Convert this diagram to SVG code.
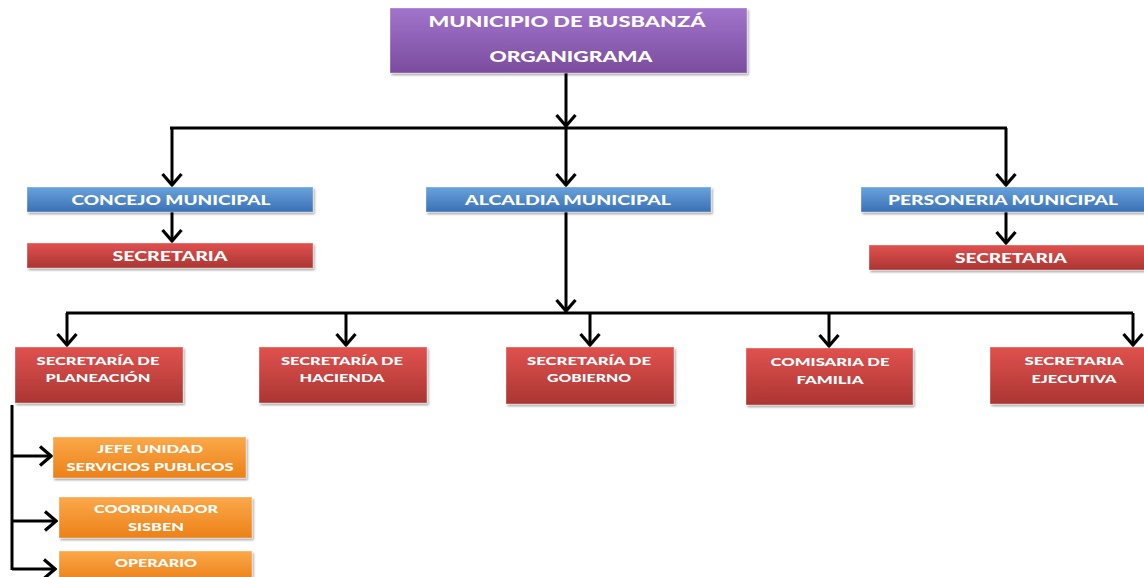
<svg xmlns="http://www.w3.org/2000/svg" width="1144" height="577" viewBox="0 0 1144 577">
<defs>
<linearGradient id="gPurple" x1="0" y1="0" x2="0" y2="1"><stop offset="0" stop-color="#a174cb"/><stop offset="1" stop-color="#7a4c9e"/></linearGradient>
<linearGradient id="gBlue" x1="0" y1="0" x2="0" y2="1"><stop offset="0" stop-color="#69a3dc"/><stop offset="1" stop-color="#3a70b5"/></linearGradient>
<linearGradient id="gRed" x1="0" y1="0" x2="0" y2="1"><stop offset="0" stop-color="#e0524f"/><stop offset="1" stop-color="#ab3532"/></linearGradient>
<linearGradient id="gOrange" x1="0" y1="0" x2="0" y2="1"><stop offset="0" stop-color="#fba84a"/><stop offset="1" stop-color="#ec8118"/></linearGradient>
<filter id="sh" x="-5%" y="-20%" width="110%" height="150%"><feDropShadow dx="1.5" dy="2" stdDeviation="1.2" flood-color="#000" flood-opacity="0.35"/></filter>
<marker id="arr" markerUnits="userSpaceOnUse" viewBox="-14 -12 16 24" refX="0" refY="0" markerWidth="16" markerHeight="24" orient="auto">
<path d="M-11,-9.5 L0,0 L-11,9.5" fill="none" stroke="#000" stroke-width="3.2"/>
</marker>
<style>
.box{filter:url(#sh);stroke:#ffffff;stroke-opacity:0.35;stroke-width:1}
.t{font-family:Lato,"Open Sans","Liberation Sans",sans-serif;font-weight:900;fill:#ffffff;text-anchor:middle}
.big{font-size:15.5px}
.mid{font-size:14px}
.sm{font-size:12px}
.xs{font-size:12px}
.c{fill:none;stroke:#000;stroke-width:3}
</style>
</defs>
<g id="connectors">
<path class="c" d="M566,73 V126" marker-end="url(#arr)"/>
<path class="c" d="M170,128 H1007"/>
<path class="c" d="M172,128 V185" marker-end="url(#arr)"/>
<path class="c" d="M566,128 V185" marker-end="url(#arr)"/>
<path class="c" d="M1006,128 V185" marker-end="url(#arr)"/>
<path class="c" d="M172,212 V241" marker-end="url(#arr)"/>
<path class="c" d="M1006,212 V243" marker-end="url(#arr)"/>
<path class="c" d="M566,212 V311" marker-end="url(#arr)"/>
<path class="c" d="M66,313 H1133"/>
<path class="c" d="M67,313 V345" marker-end="url(#arr)"/>
<path class="c" d="M346,313 V345" marker-end="url(#arr)"/>
<path class="c" d="M590,313 V345" marker-end="url(#arr)"/>
<path class="c" d="M829,313 V346" marker-end="url(#arr)"/>
<path class="c" d="M1133,313 V345" marker-end="url(#arr)"/>
<path class="c" d="M12,405 V570"/>
<path class="c" d="M12,456 H51" marker-end="url(#arr)"/>
<path class="c" d="M12,521 H56" marker-end="url(#arr)"/>
<path class="c" d="M12,569 H55" marker-end="url(#arr)"/>
</g>
<g id="n-municipio"><rect class="box" x="390" y="8" width="357" height="65" fill="url(#gPurple)"/><text class="t big" x="567" y="27" textLength="277" lengthAdjust="spacingAndGlyphs">MUNICIPIO DE BUSBANZÁ</text><text class="t big" x="571" y="62" textLength="163" lengthAdjust="spacingAndGlyphs">ORGANIGRAMA</text></g>
<g id="n-concejo"><rect class="box" x="27" y="187" width="286" height="25" fill="url(#gBlue)"/><text class="t mid" x="171" y="205" textLength="199" lengthAdjust="spacingAndGlyphs">CONCEJO MUNICIPAL</text></g>
<g id="n-alcaldia"><rect class="box" x="426" y="187" width="285" height="25" fill="url(#gBlue)"/><text class="t mid" x="568" y="205" textLength="206" lengthAdjust="spacingAndGlyphs">ALCALDIA MUNICIPAL</text></g>
<g id="n-personeria"><rect class="box" x="861" y="187" width="285" height="25" fill="url(#gBlue)"/><text class="t mid" x="1003" y="205" textLength="230" lengthAdjust="spacingAndGlyphs">PERSONERIA MUNICIPAL</text></g>
<g id="n-secretaria-1"><rect class="box" x="27" y="243" width="286" height="25" fill="url(#gRed)"/><text class="t mid" x="170" y="261" textLength="115" lengthAdjust="spacingAndGlyphs">SECRETARIA</text></g>
<g id="n-secretaria-2"><rect class="box" x="869" y="245" width="277" height="25" fill="url(#gRed)"/><text class="t mid" x="1011" y="263" textLength="112" lengthAdjust="spacingAndGlyphs">SECRETARIA</text></g>
<g id="n-planeacion"><rect class="box" x="15" y="347" width="168" height="56" fill="url(#gRed)"/><text class="t sm" x="98" y="365" textLength="123" lengthAdjust="spacingAndGlyphs">SECRETARÍA DE</text><text class="t sm" x="98" y="382" textLength="105" lengthAdjust="spacingAndGlyphs">PLANEACIÓN</text></g>
<g id="n-hacienda"><rect class="box" x="259" y="347" width="168" height="56" fill="url(#gRed)"/><text class="t sm" x="342" y="365" textLength="122" lengthAdjust="spacingAndGlyphs">SECRETARÍA DE</text><text class="t sm" x="342" y="382" textLength="85" lengthAdjust="spacingAndGlyphs">HACIENDA</text></g>
<g id="n-gobierno"><rect class="box" x="506" y="347" width="168" height="57" fill="url(#gRed)"/><text class="t sm" x="589" y="365" textLength="124" lengthAdjust="spacingAndGlyphs">SECRETARÍA DE</text><text class="t sm" x="589" y="382" textLength="84" lengthAdjust="spacingAndGlyphs">GOBIERNO</text></g>
<g id="n-comisaria"><rect class="box" x="746" y="348" width="167" height="57" fill="url(#gRed)"/><text class="t sm" x="830" y="366" textLength="119" lengthAdjust="spacingAndGlyphs">COMISARIA DE</text><text class="t sm" x="830" y="384" textLength="67" lengthAdjust="spacingAndGlyphs">FAMILIA</text></g>
<g id="n-ejecutiva"><rect class="box" x="990" y="347" width="156" height="57" fill="url(#gRed)"/><text class="t sm" x="1074" y="365" textLength="99" lengthAdjust="spacingAndGlyphs">SECRETARIA</text><text class="t sm" x="1074" y="383" textLength="85" lengthAdjust="spacingAndGlyphs">EJECUTIVA</text></g>
<g id="n-jefe"><rect class="box" x="53" y="437" width="193" height="41" fill="url(#gOrange)"/><text class="t xs" x="150" y="453" textLength="106" lengthAdjust="spacingAndGlyphs">JEFE UNIDAD</text><text class="t xs" x="150" y="471" textLength="167" lengthAdjust="spacingAndGlyphs">SERVICIOS PUBLICOS</text></g>
<g id="n-coordinador"><rect class="box" x="59" y="497" width="193" height="41" fill="url(#gOrange)"/><text class="t xs" x="156" y="513" textLength="124" lengthAdjust="spacingAndGlyphs">COORDINADOR</text><text class="t xs" x="156" y="531" textLength="56" lengthAdjust="spacingAndGlyphs">SISBEN</text></g>
<g id="n-operario"><rect class="box" x="59" y="551" width="193" height="30" fill="url(#gOrange)"/><text class="t xs" x="156" y="567" textLength="82" lengthAdjust="spacingAndGlyphs">OPERARIO</text></g>
</svg>
